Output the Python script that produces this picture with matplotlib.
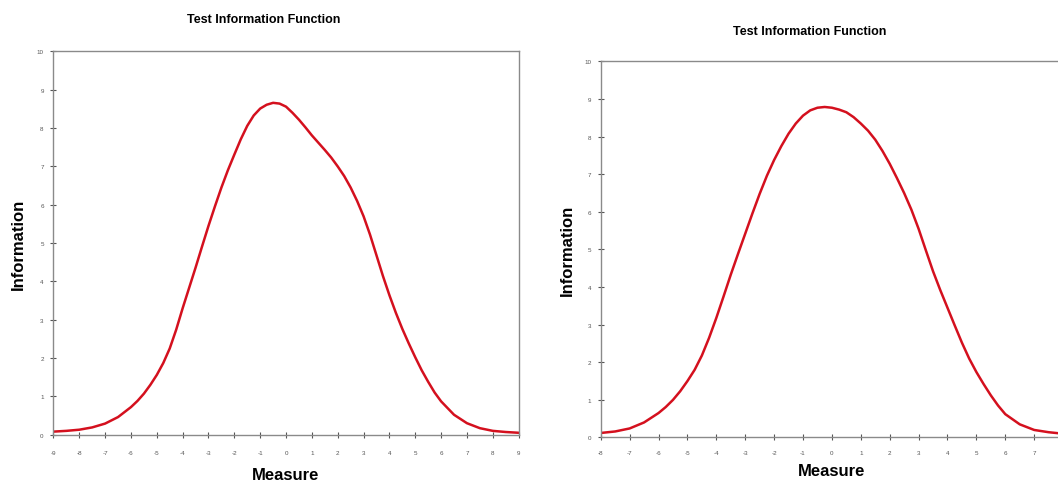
import matplotlib.pyplot as plt
import numpy as np

# left panel: theta -9..9, information values
left_measure = [-9, -8.5, -8, -7.5, -7, -6.5, -6, -5.75, -5.5, -5.25, -5,
                -4.75, -4.5, -4.25, -4, -3.75, -3.5, -3.25, -3, -2.75, -2.5,
                -2.25, -2, -1.75, -1.5, -1.25, -1, -0.75, -0.5, -0.25, 0,
                0.25, 0.5, 0.75, 1, 1.25, 1.5, 1.75, 2, 2.25, 2.5, 2.75, 3,
                3.25, 3.5, 3.75, 4, 4.25, 4.5, 4.75, 5, 5.25, 5.5, 5.75, 6,
                6.5, 7, 7.5, 8, 8.5, 9]
left_info = [0.08, 0.10, 0.13, 0.19, 0.29, 0.46, 0.72, 0.88, 1.07, 1.30, 1.56,
             1.87, 2.25, 2.74, 3.30, 3.83, 4.36, 4.91, 5.45, 5.96, 6.45,
             6.90, 7.31, 7.71, 8.06, 8.33, 8.51, 8.61, 8.66, 8.64, 8.56,
             8.40, 8.22, 8.02, 7.81, 7.62, 7.43, 7.23, 7.00, 6.75, 6.45, 6.10, 5.70,
             5.22, 4.68, 4.14, 3.64, 3.18, 2.76, 2.38, 2.02, 1.68, 1.38, 1.10, 0.87,
             0.52, 0.30, 0.17, 0.10, 0.07, 0.05]

# right panel: theta -8..8
right_measure = [-8, -7.5, -7, -6.5, -6, -5.75, -5.5, -5.25, -5,
                 -4.75, -4.5, -4.25, -4, -3.75, -3.5, -3.25, -3, -2.75, -2.5,
                 -2.25, -2, -1.75, -1.5, -1.25, -1, -0.75, -0.5, -0.25, 0,
                 0.25, 0.5, 0.75, 1, 1.25, 1.5, 1.75, 2, 2.25, 2.5, 2.75, 3,
                 3.25, 3.5, 3.75, 4, 4.25, 4.5, 4.75, 5, 5.25, 5.5, 5.75, 6,
                 6.5, 7, 7.5, 8]
right_info = [0.12, 0.16, 0.24, 0.40, 0.65, 0.81, 1.00, 1.23, 1.50,
              1.80, 2.18, 2.65, 3.18, 3.75, 4.33, 4.88, 5.42, 5.96, 6.48,
              6.96, 7.38, 7.75, 8.08, 8.35, 8.56, 8.70, 8.77, 8.79, 8.77,
              8.72, 8.65, 8.52, 8.35, 8.16, 7.92, 7.62, 7.28, 6.90, 6.50, 6.06, 5.55,
              4.98, 4.42, 3.92, 3.45, 2.98, 2.52, 2.10, 1.74, 1.42, 1.12, 0.85, 0.62,
              0.35, 0.20, 0.14, 0.10]

title = 'Test Information Function'
line_col = '#d4101e'
axis_col = '#8a8a8a'

plt.rcParams['font.family'] = ['Liberation Sans', 'DejaVu Sans']
plt.rcParams['axes.unicode_minus'] = False

fig = plt.figure(figsize=(10.58, 4.81), dpi=100)

# axes positions in figure fractions (right panel runs past the right edge)
ax1 = fig.add_axes([0.0505, 0.0942, 0.4397, 0.7967])
ax2 = fig.add_axes([0.5678, 0.0884, 0.4370, 0.7817])


def style(ax, xlo, xhi, last_tick, xpad, xlpad, ylpad):
    ax.set_xlim(xlo, xhi)
    ax.set_ylim(0, 10)
    ax.set_xticks(np.arange(xlo, last_tick + 1))
    ax.set_yticks(np.arange(0, 11))
    for side in ['left', 'bottom', 'top', 'right']:
        ax.spines[side].set_color(axis_col)
        ax.spines[side].set_linewidth(1.0)
    ax.tick_params(direction='inout', length=4, width=0.8, color='#555555',
                   labelsize=4.5, labelcolor='#555555')
    ax.tick_params(axis='x', pad=xpad)
    ax.tick_params(axis='y', pad=5)
    ax.set_xlabel('Measure', fontsize=12, fontweight='bold', labelpad=xlpad)
    ax.set_ylabel('Information', fontsize=12, fontweight='bold', labelpad=ylpad)


ax1.plot(left_measure, left_info, color=line_col, lw=1.8, solid_capstyle='round')
style(ax1, -9, 9, 9, 9, 8.5, 8)
ax1.set_title(title, fontsize=9, fontweight='bold', pad=21, x=0.453)

ax2.plot(right_measure, right_info, color=line_col, lw=1.8, solid_capstyle='round')
style(ax2, -8, 8, 7, 7, 6, 6.5)
ax2.set_title(title, fontsize=9, fontweight='bold', pad=19.5, x=0.453)

fig.savefig('out.png', dpi=100)
